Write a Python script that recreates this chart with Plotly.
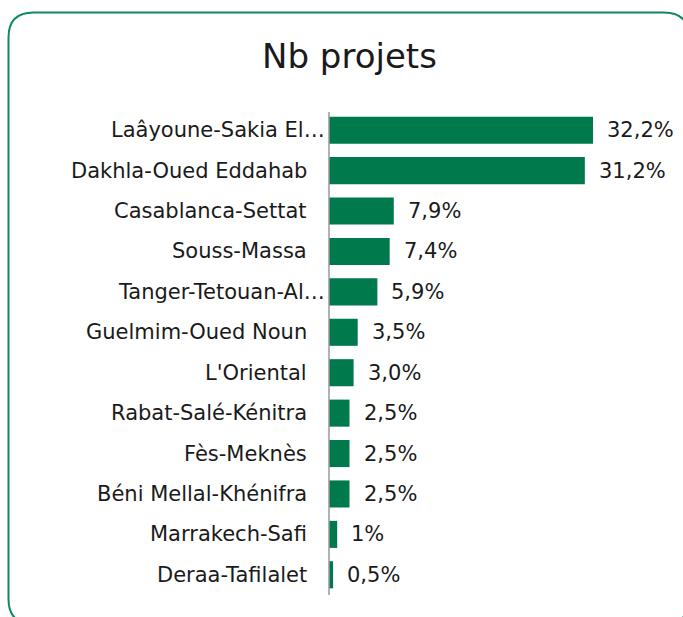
import plotly.graph_objects as go

categories = ["Laâyoune-Sakia El…", "Dakhla-Oued Eddahab", "Casablanca-Settat", "Souss-Massa",
              "Tanger-Tetouan-Al…", "Guelmim-Oued Noun", "L'Oriental", "Rabat-Salé-Kénitra",
              "Fès-Meknès", "Béni Mellal-Khénifra", "Marrakech-Safi", "Deraa-Tafilalet"]
values = [32.2, 31.2, 7.9, 7.4, 5.9, 3.5, 3.0, 2.5, 2.5, 2.5, 1.0, 0.5]
value_labels = ["32,2%", "31,2%", "7,9%", "7,4%", "5,9%", "3,5%", "3,0%", "2,5%", "2,5%", "2,5%", "1%", "0,5%"]
title_text = "Nb projets"

W, H = 683, 617
L, R, T, B = 329, 26, 110, 22
GREEN = "#007A4D"
TXT = "#1a1a1a"
FONT = "DejaVu Sans"
FS = 21

pw, ph = W - L - R, H - T - B

def px(x):
    return (x - L) / pw

def py(y):
    return (H - B - y) / ph

fig = go.Figure()
fig.add_trace(go.Bar(
    x=values, y=categories, orientation="h",
    marker=dict(color=GREEN, line=dict(width=0)),
    hoverinfo="skip",
))

annotations = []
for c, v, lab in zip(categories, values, value_labels):
    annotations.append(dict(x=v, y=c, xref="x", yref="y", text=lab, showarrow=False,
                            xanchor="left", xshift=12, font=dict(family=FONT, size=FS, color=TXT)))
    trunc = c.endswith("…")
    annotations.append(dict(x=0, y=c, xref="paper", yref="y", text=c, showarrow=False,
                            xanchor="right", xshift=(-2 if trunc else -20),
                            font=dict(family=FONT, size=FS, color=TXT)))

annotations.append(dict(x=px(349), y=py(56), xref="paper", yref="paper", text=title_text,
                        showarrow=False, xanchor="center", yanchor="middle",
                        font=dict(family=FONT, size=34, color=TXT)))

# rounded border
x0, y0, x1, y1, r = 8.5, 12.5, 689, 624, 25
def P(x, y):
    return f"{px(x)},{py(y)}"
path = (f"M {P(x0, y0 + r)} Q {P(x0, y0)} {P(x0 + r, y0)} L {P(x1 - r, y0)} "
        f"Q {P(x1, y0)} {P(x1, y0 + r)} L {P(x1, y1 - r)} Q {P(x1, y1)} {P(x1 - r, y1)} "
        f"L {P(x0 + r, y1)} Q {P(x0, y1)} {P(x0, y1 - r)} Z")

fig.update_layout(
    width=W, height=H,
    margin=dict(l=L, r=R, t=T, b=B, pad=0),
    paper_bgcolor="white", plot_bgcolor="white",
    showlegend=False,
    bargap=0.33,
    xaxis=dict(range=[0, 40], visible=False, fixedrange=True),
    yaxis=dict(autorange="reversed", showticklabels=False, showgrid=False, zeroline=False,
               showline=False, ticks=""),
    annotations=annotations,
    shapes=[
        dict(type="path", path=path, xref="paper", yref="paper",
             line=dict(color="#0e8a5c", width=2), fillcolor="rgba(0,0,0,0)", layer="below"),
        dict(type="line", xref="paper", yref="paper", x0=0, x1=0, y0=py(112), y1=py(595),
             line=dict(color="#999999", width=1.5)),
    ],
)

fig.write_html("out.html", config={"displayModeBar": False},
               post_script="document.body.style.margin='0';")
